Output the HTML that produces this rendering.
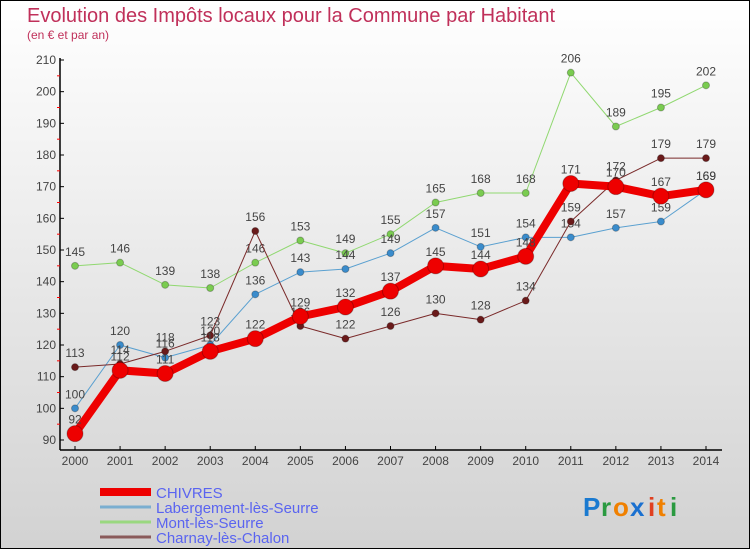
<!DOCTYPE html>
<html><head><meta charset="utf-8"><style>
html,body{margin:0;padding:0;}
body{width:750px;height:550px;overflow:hidden;}
svg{display:block;font-family:"Liberation Sans",sans-serif;}
</style></head><body>
<svg id="chart" width="750" height="550">
<defs><linearGradient id="bg" x1="0" y1="0" x2="0" y2="1"><stop offset="0" stop-color="#ffffff"/><stop offset="1" stop-color="#d2d2d2"/></linearGradient></defs>
<rect x="0.5" y="0.5" width="749" height="548" fill="url(#bg)" stroke="#000"/>
<text x="27" y="22" font-size="20" fill="#c0305a">Evolution des Impôts locaux pour la Commune par Habitant</text>
<text x="27" y="39" font-size="12" fill="#c0305a">(en € et par an)</text>
<g id="axes"></g><g id="series"></g><g id="legend"></g>
<g font-size="26" font-weight="bold">
<text x="583" y="516" fill="#1a7ad0">P</text><text x="601" y="516" fill="#2a9a40">r</text><text x="613" y="516" fill="#f08000">o</text><text x="630" y="516" fill="#1a70d0">x</text><text x="648" y="516" fill="#e04020">i</text><text x="657" y="516" fill="#f08000">t</text><text x="670" y="516" fill="#2a9a40">i</text>
</g>
</svg>
<script>
const years=[2000,2001,2002,2003,2004,2005,2006,2007,2008,2009,2010,2011,2012,2013,2014];
const chivres=[92,112,111,118,122,129,132,137,145,144,148,171,170,167,169];
const labergement=[100,120,116,120,136,143,144,149,157,151,154,154,157,159,169];
const mont=[145,146,139,138,146,153,149,155,165,168,168,206,189,195,202];
const charnay=[113,114,118,123,156,126,122,126,130,128,134,159,172,179,179];
const yTicks=[90,100,110,120,130,140,150,160,170,180,190,200,210];
const names=["CHIVRES","Labergement-lès-Seurre","Mont-lès-Seurre","Charnay-lès-Chalon"];
const NS="http://www.w3.org/2000/svg";
const xS=i=>75+i*(706-75)/(years.length-1);
const yS=v=>440-(v-90)*(380/120);
function mk(tag,attrs,parent,text){const e=document.createElementNS(NS,tag);for(const k in attrs)e.setAttribute(k,attrs[k]);if(text!==undefined)e.textContent=text;parent.appendChild(e);return e;}
const axes=document.getElementById('axes');
let e=mk('line',{x1:60,y1:58,x2:60,y2:450,stroke:'#000','stroke-width':1.5},axes);


e=mk('line',{x1:60,y1:450,x2:722,y2:450,stroke:'#000','stroke-width':1.5},axes);


yTicks.forEach(v=>{
  mk('line',{x1:60,y1:yS(v),x2:64,y2:yS(v),stroke:'#000'},axes);
  if(v<210){mk('line',{x1:57,y1:yS(v+5),x2:60,y2:yS(v+5),stroke:'#f00'},axes);}
  const t=mk('text',{x:56,y:yS(v)+4,'font-size':12,fill:'#444','text-anchor':'end'},axes,String(v));
  
  
});
years.forEach((y,i)=>{
  mk('line',{x1:xS(i),y1:446,x2:xS(i),y2:450,stroke:'#000'},axes);
  const t=mk('text',{x:xS(i),y:465,'font-size':12,fill:'#444','text-anchor':'middle'},axes,String(y));
  
  
});
const ser=document.getElementById('series');
const defs=[[mont,'#90d870','#7acc50',1,3.5,names[2]],[labergement,'#5aa0d0','#3a8ccc',1,3.5,names[1]],[charnay,'#7a2a2a','#6a1a1a',1,3.5,names[3]],[chivres,'#ee0000','#ee0000',8,8,names[0]]];
defs.forEach(([data,lc,pc,w,r,nm])=>{
  const g=mk('g',{},ser);
  
  
  const pts=data.map((v,i)=>xS(i)+','+yS(v)).join(' ');
  mk('polyline',{points:pts,fill:'none',stroke:lc,'stroke-width':w,'stroke-linejoin':'round'},g);
  data.forEach((v,i)=>{
    const c=mk('circle',{cx:xS(i),cy:yS(v),r:r,fill:pc,stroke:'rgba(0,0,0,0.25)','stroke-width':1},g);
    
    
    const t=mk('text',{x:xS(i),y:yS(v)-10,'font-size':12,fill:'#444','text-anchor':'middle'},g,String(v));
    
    
  });
});
const leg=document.getElementById('legend');
const lg=[[names[0],'#ee0000',8],[names[1],'#7aaed0',3],[names[2],'#9ad880',3],[names[3],'#8a5a5a',3]];
lg.forEach(([nm,c,w],k)=>{
  const y=492+k*15;
  const g=mk('g',{},leg);
  
  
  mk('line',{x1:100,y1:y,x2:151,y2:y,stroke:c,'stroke-width':w},g);
  mk('text',{x:156,y:y+6,'font-size':15,fill:'#5a64f0'},g,nm);
});
</script>
</body></html>
